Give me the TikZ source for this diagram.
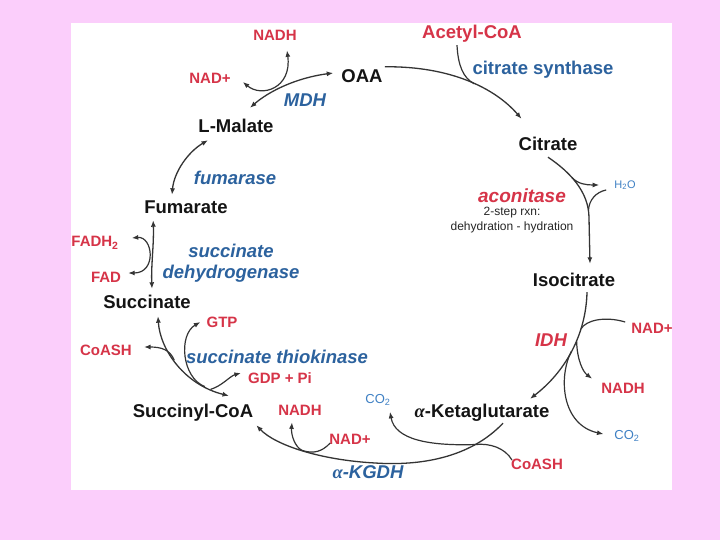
\documentclass[tikz,border=0pt]{standalone}
\usepackage{fontspec}
\setmainfont{Liberation Sans}
\newfontfamily\alphafont{Liberation Serif}
\usepackage{tikz}
\usetikzlibrary{positioning,arrows.meta,calc}
\usepackage{xcolor}
\definecolor{pinkbg}{RGB}{251,206,251}
\definecolor{cofred}{RGB}{214,52,72}
\definecolor{enzblue}{RGB}{44,98,158}
\definecolor{gasblue}{RGB}{62,128,196}
\definecolor{linegray}{RGB}{52,52,52}
\newcommand{\grkalpha}{{\alphafont\itshape α}}

\begin{document}
\begin{tikzpicture}[
    x=1pt, y=-1pt,
    >={Latex[length=6.5pt,width=5pt]},
    every node/.style={inner sep=2pt, align=center},
    metab/.style={font=\fontsize{18.5}{22}\selectfont\bfseries, text=black!92, text height=14pt, text depth=4pt},
    cofac/.style={font=\fontsize{15}{18}\selectfont\bfseries, text=cofred},
    gas/.style={font=\fontsize{13}{15}\selectfont, text=gasblue},
    enzyme/.style={font=\fontsize{18.5}{21}\selectfont\bfseries\itshape, text=enzblue},
    enzymeUp/.style={font=\fontsize{18.5}{21}\selectfont\bfseries, text=enzblue},
    note/.style={font=\fontsize{12}{15}\selectfont, text=black!85},
    cycLine/.style={draw=linegray, line width=1.3pt, ->},
    sideLine/.style={draw=linegray, line width=1.2pt}
]
    \fill [pinkbg] (0, 0) rectangle (720, 540);
    \fill [white] (71, 23) rectangle (672, 490);

    \node [metab] (oaa) at (362, 78) {OAA};
    \node [metab] (cit) at (548, 146) {Citrate};
    \node [metab] (iso) at (574, 281) {Isocitrate};
    \node [metab] (akg) at (482, 412) {\grkalpha-Ketaglutarate};
    \node [metab] (sca) at (193, 412) {Succinyl-CoA};
    \node [metab] (suc) at (147, 303) {Succinate};
    \node [metab] (fum) at (186, 209) {Fumarate};
    \node [metab] (mal) at (236, 128) {L-Malate};
    \node [metab, text=cofred] (acoa) at (472, 34) {Acetyl-CoA};

    \node [cofac] (nadh1) at (275, 35) {NADH};
    \node [cofac] (nad1) at (210, 78) {NAD+};
    \node [gas, font=\fontsize{11}{13}\selectfont] (h2o) at (625, 185) {H\textsubscript{2}O};
    \node [cofac] (nad2) at (652, 328) {NAD+};
    \node [cofac] (nadh2) at (623, 388) {NADH};
    \node [gas] (co2a) at (627, 436) {CO\textsubscript{2}};
    \node [cofac] (coash1) at (537, 464) {CoASH};
    \node [gas] (co2b) at (378, 400) {CO\textsubscript{2}};
    \node [cofac] (nadh3) at (300, 410) {NADH};
    \node [cofac] (nad3) at (350, 439) {NAD+};
    \node [cofac] (gtp) at (222, 322) {GTP};
    \node [cofac] (gdp) at (280, 378) {GDP + Pi};
    \node [cofac] (coash2) at (106, 350) {CoASH};
    \node [cofac] (fadh) at (95, 243) {FADH\textsubscript{2}};
    \node [cofac] (fad) at (106, 277) {FAD};

    \node [enzyme] (mdh) at (305, 100) {MDH};
    \node [enzymeUp] (cs) at (543, 70) {citrate synthase};
    \node [enzyme, text=cofred, font=\fontsize{19}{22}\selectfont\bfseries\itshape] (aco) at (522, 196) {aconitase};
    \node [note] (rxnnote) at (512, 220) {2-step rxn:\\dehydration - hydration};
    \node [enzyme, text=cofred] (idh) at (551, 340) {IDH};
    \node [enzyme] (kgdh) at (368, 472) {\grkalpha-KGDH};
    \node [enzyme] (stk) at (277, 357) {succinate thiokinase};
    \node [enzyme] (sdh) at (231, 263) {succinate\\dehydrogenase};
    \node [enzyme] (fumase) at (235, 178) {fumarase};

    \path [cycLine] (oaa.north east) .. controls (450, 66) and (495, 88) .. coordinate [pos=0.55] (csj) ([xshift=5pt, yshift=16pt]cit.north west);
    \path [sideLine] ([xshift=-15pt]acoa.south) .. controls (458, 65) and (463, 78) .. (csj);

    \path [cycLine] (cit.south) .. controls (570, 172) and (589, 192) .. coordinate [pos=0.4] (h2oj) coordinate [pos=0.9] (h2ok) (589, 218) -- ([xshift=16pt, yshift=6pt]iso.north);
    \path [sideLine, ->, shorten >=13pt] (h2oj) .. controls (578, 184) and (586, 185) .. (h2o.west);
    \path [sideLine] ([xshift=-6pt, yshift=-5pt]h2o.west) .. controls (596, 192) and (589, 200) .. (h2ok);

    \path [cycLine] ([xshift=13pt]iso.south) .. controls (586, 335) and (565, 372) .. coordinate [pos=0.3] (nadj) coordinate [pos=0.4] (nadhj) coordinate [pos=0.5] (co2j) ([xshift=48pt, yshift=2pt]akg.north);
    \path [sideLine] ([xshift=-4pt, yshift=6pt]nad2.west) .. controls (605, 316) and (586, 320) .. (nadj);
    \path [sideLine, ->] (nadhj) .. controls (577, 360) and (583, 372) .. ([xshift=-7pt, yshift=2pt]nadh2.north west);
    \path [sideLine, ->, shorten >=9pt] (co2j) .. controls (558, 378) and (562, 425) .. (co2a.west);

    \path [cycLine] ([xshift=21pt]akg.south) .. controls (470, 458) and (420, 466) .. coordinate [pos=0.25] (akgj) (375, 463) .. controls (320, 460) and (275, 445) .. coordinate [pos=0.5] (kgdj) ([xshift=1pt, yshift=-2pt]sca.south east);
    \path [sideLine] ([xshift=3pt, yshift=4pt]coash1.west) .. controls (505, 448) and (490, 443) .. (akgj);
    \path [sideLine, ->] (akgj) .. controls (430, 446) and (395, 440) .. ([xshift=12pt, yshift=-4pt]co2b.south);
    \path [sideLine] ([xshift=3pt, yshift=-4pt]nad3.west) .. controls (322, 452) and (313, 454) .. (kgdj);
    \path [sideLine, ->] (kgdj) .. controls (295, 447) and (291, 435) .. ([xshift=-8pt, yshift=-5pt]nadh3.south);

    \path [cycLine, <->] ([xshift=11pt, yshift=-2pt]suc.south) .. controls (160, 350) and (185, 385) .. coordinate [pos=0.45] (stj) coordinate [pos=0.8] (gtpj) coordinate [pos=0.85] (gdpj) ([xshift=36pt, yshift=5pt]sca.north);
    \path [sideLine, ->] (stj) .. controls (170, 350) and (162, 347) .. ([xshift=10pt, yshift=3pt]coash2.east);
    \path [sideLine, ->] (gtpj) .. controls (182, 378) and (178, 335) .. ([xshift=-4pt]gtp.west);
    \path [sideLine, ->] (gdpj) .. controls (222, 386) and (230, 376) .. ([xshift=-5pt, yshift=5pt]gdp.west);

    \path [cycLine, <->] ([xshift=5pt, yshift=3pt]suc.north) .. controls (151, 265) and (154, 245) .. ([xshift=11pt]fum.south west);
    \path [sideLine, <->] ([xshift=11pt, yshift=5pt]fadh.east) .. controls (153, 236) and (157, 273) .. ([xshift=5pt, yshift=4pt]fad.east);

    \path [cycLine, <->] ([xshift=-14pt, yshift=3pt]fum.north) .. controls (174, 172) and (188, 152) .. ([xshift=-28pt, yshift=-1pt]mal.south);

    \path [cycLine, <->] ([xshift=14pt, yshift=9pt]mal.north) .. controls (268, 92) and (295, 78) .. ([xshift=-6pt, yshift=5pt]oaa.west);
    \path [sideLine, <->] ([xshift=10pt, yshift=-4pt]nad1.east) .. controls (262, 98) and (292, 88) .. ([xshift=12pt, yshift=-8pt]nadh1.south);
\end{tikzpicture}
\end{document}
